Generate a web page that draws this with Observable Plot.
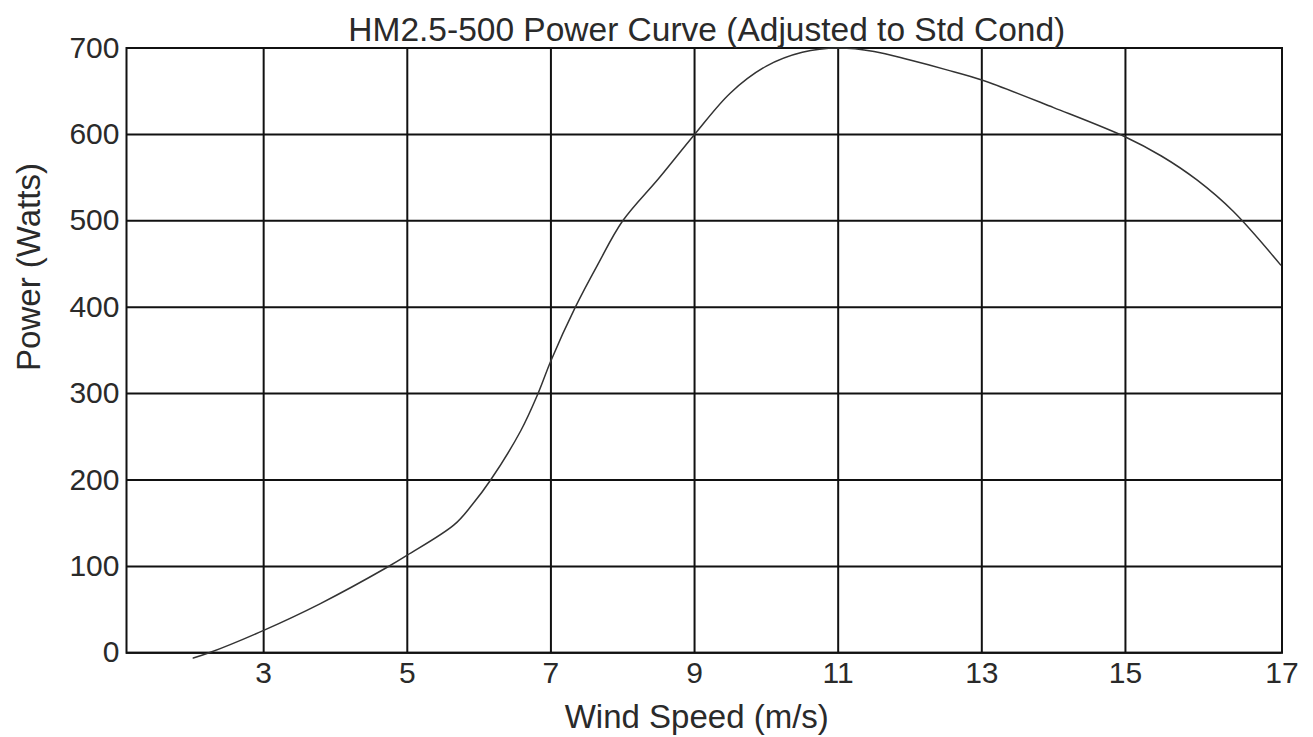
<!DOCTYPE html>
<html>
<head>
<meta charset="utf-8">
<script src="https://cdn.jsdelivr.net/npm/d3@7"></script>
<script src="https://cdn.jsdelivr.net/npm/@observablehq/plot@0.6"></script>
<style>
  html, body { margin: 0; padding: 0; background: #fff; }
</style>
</head>
<body>
<div id="chart"></div>
<script>
// Data
const windSpeed = [2.02, 2.24, 3.0, 3.79, 4.72, 5.0, 5.65, 5.9, 6.16, 6.58, 6.82, 7.0, 7.34, 7.65, 8.0, 8.5, 9.0, 9.5, 10.0, 10.5, 11.0, 11.5, 12.0, 12.5, 13.0, 14.0, 15.0, 15.5, 16.0, 16.5, 17.16];
const power     = [-6, 0, 26, 57, 99, 113, 148, 171, 200, 257, 300, 338, 400, 449, 500, 549, 600, 648, 679, 695, 700, 696, 686, 675, 663, 631, 597, 575, 547, 511, 449];
const xTicks = [3, 5, 7, 9, 11, 13, 15];
const xEndLabel = "17";
const yTicks = [0, 100, 200, 300, 400, 500, 600, 700];
const xDomain = [1.09, 17.18];
const yDomain = [0, 700];
const title = "HM2.5-500 Power Curve (Adjusted to Std Cond)";
const xLabel = "Wind Speed (m/s)";
const yLabel = "Power (Watts)";

const data = windSpeed.map((v, i) => ({speed: v, power: power[i]}));
const xTickValues = [...xTicks, xDomain[1]];
const fmtX = d => d === xDomain[1] ? xEndLabel : String(d);

const font = "Liberation Sans, Arial, Helvetica, sans-serif";

const chart = Plot.plot({
  width: 1313,
  height: 737,
  marginLeft: 126,
  marginRight: 31.5,
  marginTop: 47.5,
  marginBottom: 84.7,
  style: {fontFamily: font, fontSize: "30px", color: "#222", background: "#fff"},
  x: {domain: xDomain},
  y: {domain: yDomain},
  marks: [
    Plot.gridX(xTicks, {stroke: "#111", strokeOpacity: 1, strokeWidth: 2}),
    Plot.gridY(yTicks, {stroke: "#111", strokeOpacity: 1, strokeWidth: 2}),
    Plot.frame({stroke: "#111", strokeWidth: 2}),
    Plot.axisX({ticks: xTickValues, tickFormat: fmtX, tickSize: 0, tickPadding: 9, label: null, fill: "#2a2a2a"}),
    Plot.axisY({ticks: yTicks, tickSize: 0, tickPadding: 7, label: null, fill: "#2a2a2a"}),
    Plot.line(data, {x: "speed", y: "power", curve: "catmull-rom", stroke: "#333", strokeWidth: 1.5}),
    Plot.text([title], {frameAnchor: "top", lineAnchor: "bottom", dy: -7.5, dx: 2.5, fontSize: 33.5, fill: "#2a2a2a"}),
    Plot.text([xLabel], {frameAnchor: "bottom", lineAnchor: "bottom", dy: 75, dx: -7.5, fontSize: 33, fill: "#2a2a2a"}),
    Plot.text([yLabel], {frameAnchor: "top-left", lineAnchor: "bottom", textAnchor: "middle", rotate: -90, dx: -87, dy: 219, fontSize: 33, fill: "#2a2a2a"})
  ]
});
document.getElementById("chart").appendChild(chart);
</script>
</body>
</html>
